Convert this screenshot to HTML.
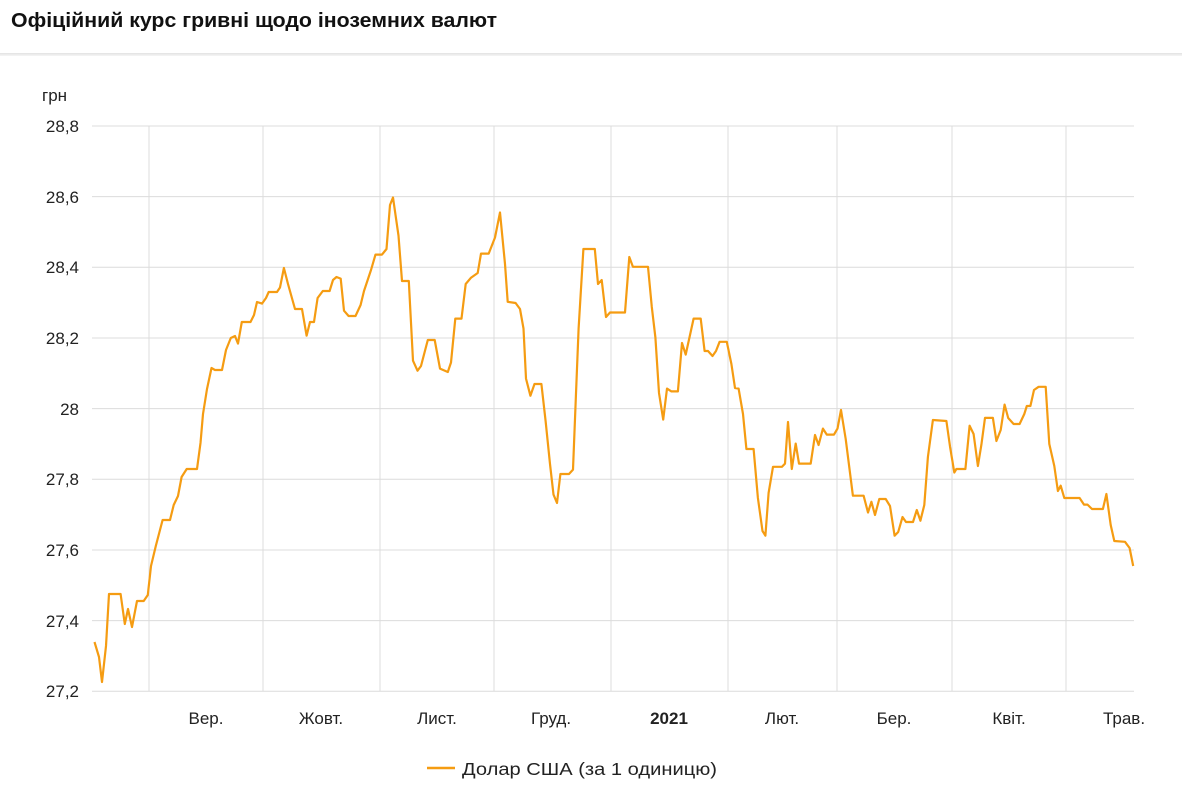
<!DOCTYPE html>
<html><head><meta charset="utf-8"><style>
body{margin:0;width:1182px;height:789px;background:#fff;font-family:"Liberation Sans",sans-serif;overflow:hidden;position:relative}
.sep{position:absolute;left:0;top:53px;width:1182px;height:3px;background:linear-gradient(#e2e2e2,#f6f6f6)}
</style></head><body>
<div class="sep"></div>
<svg width="1182" height="789" style="position:absolute;left:0;top:0" font-family="Liberation Sans, sans-serif">
<text x="11" y="27" font-size="20" font-weight="bold" fill="#111" textLength="486" lengthAdjust="spacingAndGlyphs">Офіційний курс гривні щодо іноземних валют</text>
<g stroke="#dcdcdc" stroke-width="1">
<line x1="92" y1="126" x2="1134" y2="126"/><line x1="92" y1="196.6" x2="1134" y2="196.6"/><line x1="92" y1="267.3" x2="1134" y2="267.3"/><line x1="92" y1="338" x2="1134" y2="338"/><line x1="92" y1="408.6" x2="1134" y2="408.6"/><line x1="92" y1="479.3" x2="1134" y2="479.3"/><line x1="92" y1="550" x2="1134" y2="550"/><line x1="92" y1="620.6" x2="1134" y2="620.6"/><line x1="92" y1="691.3" x2="1134" y2="691.3"/>
<line x1="149" y1="126" x2="149" y2="691"/><line x1="263" y1="126" x2="263" y2="691"/><line x1="380" y1="126" x2="380" y2="691"/><line x1="494" y1="126" x2="494" y2="691"/><line x1="611" y1="126" x2="611" y2="691"/><line x1="728" y1="126" x2="728" y2="691"/><line x1="837" y1="126" x2="837" y2="691"/><line x1="952" y1="126" x2="952" y2="691"/><line x1="1066" y1="126" x2="1066" y2="691"/>
</g>
<g font-size="17" fill="#222" text-anchor="end">
<text x="42" y="101" text-anchor="start">грн</text>
<text x="79" y="132">28,8</text><text x="79" y="203">28,6</text><text x="79" y="273">28,4</text><text x="79" y="344">28,2</text><text x="79" y="415">28</text><text x="79" y="485">27,8</text><text x="79" y="556">27,6</text><text x="79" y="627">27,4</text><text x="79" y="697">27,2</text>
</g>
<g font-size="17" fill="#222" text-anchor="middle">
<text x="206" y="724">Вер.</text><text x="321" y="724">Жовт.</text><text x="437" y="724">Лист.</text><text x="551" y="724">Груд.</text><text x="669" y="724" font-weight="bold">2021</text><text x="782" y="724">Лют.</text><text x="894" y="724">Бер.</text><text x="1009" y="724">Квіт.</text><text x="1124" y="724">Трав.</text>
</g>
<polyline fill="none" stroke="#f59c12" stroke-width="2.2" stroke-linejoin="round" points="94.5,642 99,657 102,682 106,646 109,594 120.6,594 124.8,624 128,609 132,627 137,601 143.7,601 147.8,595 151,566 155.8,546 162.6,520 170,520 173.7,505 178,496 181.6,477 186.7,469 197,469 200.5,443 203,414 207,389 211.5,368 215,370 222,370 226,350 230.8,338 235,336 238,343.6 241.8,322 250.5,322 254,315 257,302 262,303.6 266,298 268.7,292 277,292 280,287.5 283.9,268 288,284 295,309 302,309 306.6,335.7 310,322 314,322 317.6,298 322.8,291 329.6,291 333,280 336.5,277 340.7,278.6 344,310.7 348.6,316 355.5,316 360.6,305 364,291 371,270 375.5,254.6 382,254.6 386.5,249 390,205 393,197.5 398.5,235.7 402,281 408.8,281 413,360.7 417.5,370.7 421,366 427.8,340 434.7,340 440,368.6 447.8,372 451,362.5 455.3,318.6 461.5,318.6 465.7,284 470.8,277.9 477.7,273 481,253.6 488.7,253.6 495,237.5 500,212.5 505,264 507.7,301.8 515.6,303 520,309 523.5,328.6 526,378.6 530.4,395.7 534.5,384 541.4,384 545.6,421 550,464 553.5,494.6 557,503 560.4,474 569,474 573,469.6 575.9,396 578.6,328.6 583.4,249 594.8,249 598,284 601.7,280 606,317 610,312.5 625,312.5 629.3,257 632.9,266.8 648,266.8 651.8,307 655.4,337.5 659,393 663.2,419.6 667,388.6 671.4,391.4 677.9,391.4 682,343 685.7,354.6 693.6,318.6 700.7,318.6 704.6,351 708,351 712.5,356 716,351 719.6,341.8 726.8,341.8 731.4,364 735,388 738.6,388.6 743,414 746.4,449 753.6,449 757.9,498 762.5,531 765.4,535.7 768.6,492.9 773,466.8 782,466.8 785,463.6 788,422 791.8,469 795.7,443.6 799,463.6 810.7,463.6 815,435 818.6,445 822.9,428.6 826.8,434.6 834,434.6 837.5,428.6 841,410 845.7,439 852.9,495.7 863.6,495.7 868,512.5 871.4,501.8 875,515 879.3,499 885.7,499 890,506 894.6,535.7 898.2,532 902.5,517 906,522 913,522 916.8,510 920.4,520.7 924.3,505 927.9,457 932.9,420 946.4,421 950,446.4 954.3,472.5 956.4,469 965.4,469 969.6,425.7 973.6,434 977.9,466 981.4,444.6 985,417.9 992.9,417.9 996.4,441 1000.7,430 1004.6,404.6 1008.2,418 1013.6,424 1019.6,424 1024.3,414 1026.8,406 1030.4,406 1034,390 1038.6,386.8 1045.7,386.8 1049.3,444 1054.3,466 1057.9,491 1060.7,485.7 1064.3,498 1079.6,498 1084,504.6 1087.5,504.6 1092,509 1102.9,509 1106.4,494 1110.7,525 1114.3,541 1125,541.8 1129.6,548 1133.2,566"/>
<line x1="427" y1="768" x2="455" y2="768" stroke="#f59c12" stroke-width="2.5"/>
<text x="462" y="775" font-size="17.5" fill="#222" textLength="255" lengthAdjust="spacingAndGlyphs">Долар США (за 1 одиницю)</text>
</svg>
</body></html>
